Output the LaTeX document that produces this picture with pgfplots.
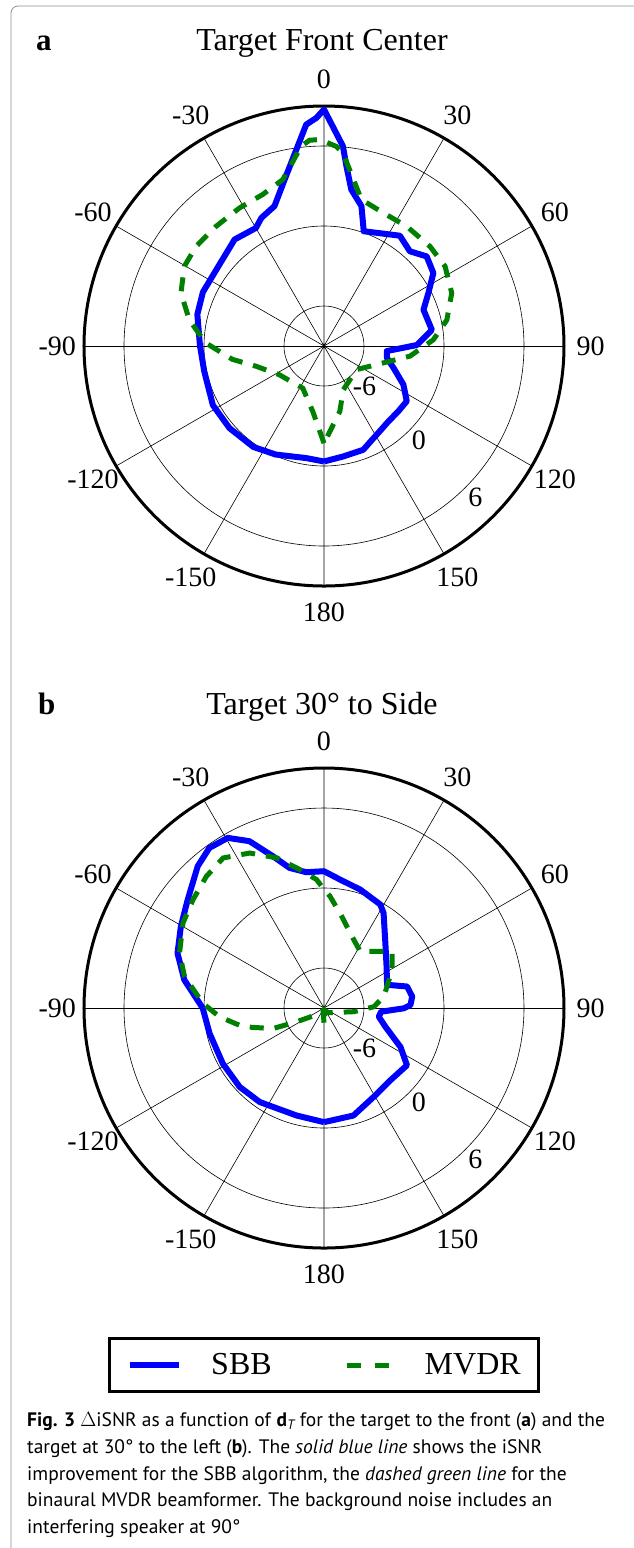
\documentclass[border=0pt]{standalone}
\usepackage{fontspec}
\setmainfont{Liberation Serif}
\newfontfamily\capfont{PT Sans}
\usepackage{pgfplots}
\pgfplotsset{compat=1.18}
\usepgfplotslibrary{polar}
\definecolor{sbbblue}{RGB}{0,0,255}
\definecolor{mvdrgreen}{RGB}{0,128,0}
\newcommand\tl{\fontsize{28}{30}\selectfont}
\pgfplotsset{
  mypolar/.style={
    scale only axis, width=480pt, height=480pt, anchor=center,
    xmin=0, xmax=360, ymin=0, ymax=18,
    xtick={30,60,90,120,150,210,240,270,300,330}, xticklabels={},
    extra x ticks={0,180}, extra x tick labels={},
    extra x tick style={grid style={line width=1.6pt, black!50}},
    ytick={3,15}, yticklabels={},
    extra y ticks={9}, extra y tick labels={},
    extra y tick style={grid style={line width=1.2pt, black}},
    xmajorgrids, ymajorgrids,
    major grid style={line width=0.6pt, black},
    x axis line style={line width=3pt, black},
    y axis line style={draw=none},
    tick style={draw=none},
    clip=false,
    x filter/.expression={90-x},
    y filter/.expression={y+9},
  },
  sbb/.style={color=sbbblue, line width=6pt, line join=round, no markers},
  mvdr/.style={color=mvdrgreen, line width=5pt, dash pattern=on 14pt off 11pt, no markers},
  mvdrimg/.style={legend image code/.code={\draw[##1, dash pattern=on 14pt off 14pt] (0pt,0pt) -- (42pt,0pt); \path (46pt,0pt);}},
}
\newcommand\anglabels{%
\node[font=\tl] at (axis cs:90,20) {0};
\node[font=\tl] at (axis cs:60,20) {30};
\node[font=\tl] at (axis cs:30,20) {60};
\node[font=\tl] at (axis cs:0,20) {90};
\node[font=\tl] at (axis cs:-30,20) {120};
\node[font=\tl] at (axis cs:-60,20) {150};
\node[font=\tl] at (axis cs:-90,20) {180};
\node[font=\tl] at (axis cs:-120,20) {-150};
\node[font=\tl] at (axis cs:-150,20) {-120};
\node[font=\tl] at (axis cs:180,20) {-90};
\node[font=\tl] at (axis cs:150,20) {-60};
\node[font=\tl] at (axis cs:120,20) {-30};
\node[font=\tl] at (axis cs:-45,4.3) {-6};
\node[font=\tl] at (axis cs:-45,10.05) {0};
\node[font=\tl] at (axis cs:-45,16.05) {6};
}
\begin{document}
\begin{tikzpicture}
\useasboundingbox (0pt,0pt) rectangle (633pt,-1548pt);
\draw[black!45, line width=0.8pt, rounded corners=7pt] (11pt,-1700pt) |- (800pt,-6pt);

% titles
\node[anchor=base west, inner sep=0pt, font=\fontsize{31}{34}\selectfont\bfseries] at (36pt,-50pt) {a};
\node[anchor=base, inner sep=0pt, font=\fontsize{32}{34}\selectfont] at (322pt,-50pt) {Target Front Center};
\node[anchor=base west, inner sep=0pt, font=\fontsize{31}{34}\selectfont\bfseries] at (38pt,-714pt) {b};
\node[anchor=base, inner sep=0pt, font=\fontsize{32}{34}\selectfont] at (322pt,-714pt) {Target 30° to Side};

% plot a
\begin{polaraxis}[mypolar, at={(324pt,-346pt)}]
\addplot[sbb] table {
-180 -0.34
-171 -0.49
-156 -0.09
-145 0.24
-131 0.39
-118 0.44
-102 0.18
-90 0.30
-76 0.79
-66 0.94
-56 0.88
-50 0.99
-40 1.43
-30 1.22
-26 1.70
-19.5 2.13
-13.3 3.83
-8 5.88
-4.6 7.66
-1.9 8.12
0 8.74
5.4 6.06
7.1 4.6
9.9 2.91
15 1.86
19.1 0.11
34.5 1.04
42.2 0.59
48.9 1.22
56.3 0.86
63.1 -0.22
70 -1.06
81.5 -0.82
87.4 -1.78
89.4 -2.04
94.6 -4.27
100.6 -4.2
107.4 -3.54
115.9 -2.38
123.7 -1.54
131.3 -1.58
139.5 -1.56
149.4 -1.26
159.3 -0.68
170.2 -0.59
180 -0.34
};
\addplot[mvdr] table {
-180 -1.71
-170.4 -4.0
-153.3 -5.46
-122.6 -5.01
-106.5 -3.67
-98.3 -2.06
-88.4 -0.1
-79 1.29
-69.7 2.44
-60.3 3.06
-52.1 3.16
-42.1 3.09
-31.5 3.14
-22 3.26
-13.9 3.86
-9.5 5.06
-6.5 6.09
-4 6.47
-1.2 6.49
3.5 6.0
5.6 5.56
9.1 4.03
14.3 2.34
24 1.93
34.6 1.91
46.8 1.91
56.7 1.87
67.5 1.37
78 0.42
86.7 -0.78
96.7 -2.5
105.8 -4.36
125.8 -5.98
156.3 -5.41
166.4 -3.95
180 -1.71
};
\anglabels
\end{polaraxis}

% plot b
\begin{polaraxis}[mypolar, at={(324pt,-1008pt)},
  legend columns=2,
  legend image code/.code={\draw[#1] (0pt,0pt) -- (49pt,0pt);},
  legend style={at={(0.5,-0.244)}, anchor=center, draw=black, line width=2.7pt,
    font=\fontsize{32}{36}\selectfont, inner xsep=18pt, inner ysep=15pt,
    nodes={inner xsep=0pt, inner ysep=0pt},
    /tikz/every odd column/.append style={column sep=29pt},
    /tikz/every even column/.append style={column sep=73pt}},
]
\addplot[sbb] table {
-180 -0.44
-165.7 -0.68
-145.7 -0.46
-133.1 -0.34
-118.8 -0.34
-102.5 -0.21
-90 0.10
-78.6 1.69
-69.5 2.73
-60.3 3.36
-51.5 4.06
-41.7 5.24
-35.6 5.77
-29.5 5.66
-24.1 4.71
-18.6 3.01
-13.8 1.82
-7.4 1.27
0 1.26
7.1 0.71
17 0.29
28.5 -0.16
32.1 -0.59
43.3 -2.29
56.3 -3.36
69.8 -3.96
75.5 -2.56
82.6 -2.33
88 -2.51
90.2 -3.01
93.7 -4.71
99 -4.84
107 -4.18
117 -2.56
124.6 -1.44
137.5 -1.64
150.9 -1.36
164.7 -0.64
180 -0.44
};
\addlegendentry{SBB}
\addplot[mvdr, mvdrimg] table {
-180 -7.9
-160 -8.8
-133.7 -8.3
-116.6 -6.67
-111.9 -4.86
-103 -2.76
-94.8 -1.14
-87.8 0.09
-77.3 1.72
-69.2 2.59
-58.9 3.35
-50.4 3.75
-41.8 4.24
-33.9 4.56
-25.6 3.89
-17.5 2.81
-9.9 1.54
-3.3 0.65
0 -0.11
3.1 -0.61
10.9 -1.99
21.2 -3.22
32.6 -3.96
43.1 -3.19
50.2 -2.36
60.7 -3.14
79.2 -4.43
88.5 -5.26
97 -6.74
135 -8.5
160 -8.8
180 -7.9
};
\addlegendentry{MVDR}
\anglabels
\end{polaraxis}

% caption
\begin{scope}[every node/.style={anchor=base west, inner sep=0pt, font=\capfont\fontsize{19.5}{22}\selectfont}]
\node at (27pt,-1426.7pt) {\textbf{Fig. 3} $\Delta$iSNR as a function of \textbf{d}\textsubscript{\itshape T} for the target to the front (\textbf{a}) and the};
\node at (27pt,-1453.3pt) {target at 30° to the left (\textbf{b}). The \textit{solid blue line} shows the iSNR};
\node at (27pt,-1480pt) {improvement for the SBB algorithm, the \textit{dashed green line} for the};
\node at (27pt,-1506.7pt) {binaural MVDR beamformer. The background noise includes an};
\node at (27pt,-1533.3pt) {interfering speaker at 90°};
\end{scope}
\end{tikzpicture}
\end{document}
